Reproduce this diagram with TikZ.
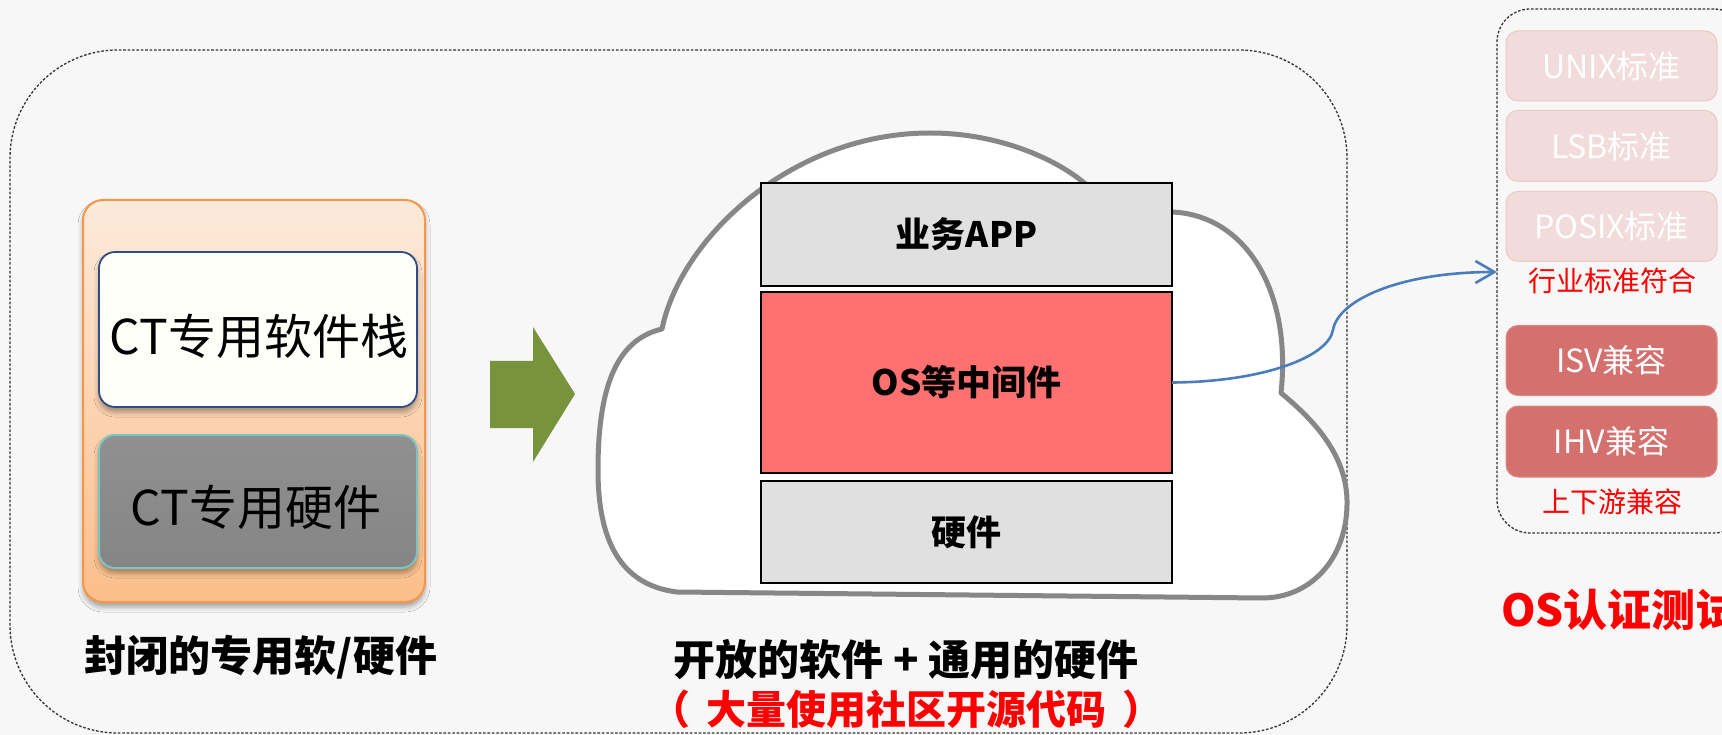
\documentclass[tikz,border=0pt]{standalone}
\usepackage{fontspec}
\setmainfont{Noto Sans CJK SC}
\newfontfamily\heavyfont{Noto Sans CJK SC Black}
\usetikzlibrary{arrows.meta,shadows.blur}

\definecolor{bg}{HTML}{F7F7F7}
\definecolor{frameline}{HTML}{333333}
\definecolor{orangeedge}{HTML}{F79646}
\definecolor{orangetop}{HTML}{FDEADB}
\definecolor{orangebot}{HTML}{FBBE8A}
\definecolor{navyedge}{HTML}{2F4C86}
\definecolor{tealedge}{HTML}{7CC3C3}
\definecolor{hwtop}{HTML}{909090}
\definecolor{hwbot}{HTML}{858585}
\definecolor{arrowgreen}{HTML}{77933C}
\definecolor{cloudline}{HTML}{878787}
\definecolor{layergray}{HTML}{E0E0E0}
\definecolor{osred}{HTML}{FF7171}
\definecolor{linkblue}{HTML}{4A7EBB}
\definecolor{stdpink}{HTML}{F2DCDB}
\definecolor{stdpinkedge}{HTML}{ECC9C8}
\definecolor{compatred}{HTML}{D4716F}
\definecolor{compatedge}{HTML}{DC8A88}
\definecolor{alertred}{HTML}{FF0000}

\newcommand\pxfont[1]{\fontsize{#1}{#1}\selectfont}

\tikzset{
  every node/.style={inner sep=0pt, outer sep=0pt},
  frame/.style={draw=frameline, line width=1.3pt, dash pattern=on 2.6pt off 1.8pt},
  softshadow/.style={blur shadow={shadow xshift=0pt, shadow yshift=-5pt,
      shadow blur radius=5pt, shadow opacity=35}},
  ctbox/.style={rounded corners=16pt, minimum width=318pt, softshadow},
  layer/.style={draw=black, line width=1.8pt, minimum width=411pt,
      font=\heavyfont\pxfont{35}, text=black},
  stdbox/.style={rounded corners=12pt, minimum width=211pt, line width=1pt,
      font=\pxfont{32}, text=white},
  caption/.style={font=\pxfont{42}\bfseries, text=black},
  redcaption/.style={font=\pxfont{28}, text=alertred},
  link/.style={draw=linkblue, line width=2.6pt,
      -{Straight Barb[length=19pt, width=22pt, line width=2.6pt]}}
}

\begin{document}
\begin{tikzpicture}[x=1pt, y=-1pt]
\useasboundingbox (0,0) rectangle (1722,735);
\fill[bg] (0,0) rectangle (1722,735);

% dashed frames
\node[frame, rounded corners=108pt, minimum width=1337pt, minimum height=683pt]
  (leftframe) at (678.5,391.5) {};
\node[frame, rounded corners=33pt, minimum width=250pt, minimum height=524pt]
  (rightframe) at (1622,271) {};

% closed, dedicated stack
\node[rounded corners=20pt, draw=orangeedge, line width=2pt,
      top color=orangetop, bottom color=orangebot,
      minimum width=342pt, minimum height=402pt, softshadow]
  (closed) at (254,401) {};
\node[ctbox, draw=navyedge, line width=1.8pt, fill=white!98!yellow,
      minimum height=155pt] (ctsw) at (258,329.5) {};
\node[font=\pxfont{48}] (ctswtext) at (259,336) {CT专用软件栈};
\node[ctbox, draw=tealedge, line width=2pt, top color=hwtop, bottom color=hwbot,
      minimum height=133pt] (cthw) at (258,501.5) {};
\node[font=\pxfont{48}] (cthwtext) at (256,507) {CT专用硬件};
\node[caption] (closedlabel) at (261,657) {封闭的专用软/硬件};

% green transition arrow
\fill[arrowgreen] (490,361) -- (533,361) -- (533,327) -- (575,394)
  -- (533,462) -- (533,428) -- (490,428) -- cycle;

% cloud
\filldraw[fill=white, draw=cloudline, line width=5pt, line join=round]
  (662,329)
  .. controls (680,240) and (790,133) .. (930,133)
  .. controls (1000,133) and (1060,160) .. (1090,188)
  -- (1165,205) -- (1172,212)
  .. controls (1245,215) and (1292,290) .. (1281,393)
  .. controls (1320,425) and (1348,460) .. (1347,505)
  .. controls (1346,560) and (1310,598) .. (1262,598)
  -- (677,592)
  .. controls (620,585) and (598,540) .. (598,470)
  .. controls (598,390) and (615,340) .. (662,329) -- cycle;

% open software stack
\node[layer, fill=layergray, minimum height=103pt] (app) at (966.5,234.5) {业务APP};
\node[layer, fill=osred, minimum height=181pt] (os) at (966.5,382.5) {OS等中间件};
\node[layer, fill=layergray, minimum height=102pt] (hw) at (966.5,532) {硬件};

\node[caption, font=\pxfont{42}\bfseries] (openlabel) at (906,660) {开放的软件 + 通用的硬件};
\node[caption, font=\pxfont{40}\bfseries, text=alertred] (sourcelabel) at (906,709)
  {（\hspace{16pt}大量使用社区开源代码\hspace{16pt}）};

% link to certification tests
\coordinate (tip) at (1497,272);
\draw[link] (os.east) .. controls (1260,382) and (1328,358) .. (1333,330)
  .. controls (1338,300) and (1400,272) .. (tip);

% certification items
\node[stdbox, fill=stdpink, draw=stdpinkedge, minimum height=70pt] (unix) at (1611.5,66) {UNIX标准};
\node[stdbox, fill=stdpink, draw=stdpinkedge, minimum height=71pt] (lsb) at (1611.5,146) {LSB标准};
\node[stdbox, fill=stdpink, draw=stdpinkedge, minimum height=70pt] (posix) at (1611.5,226.5) {POSIX标准};
\node[redcaption] (stdlabel) at (1612,281) {行业标准符合};
\node[stdbox, fill=compatred, draw=compatedge, minimum height=70pt] (isv) at (1611.5,360.5) {ISV兼容};
\node[stdbox, fill=compatred, draw=compatedge, minimum height=71pt] (ihv) at (1611.5,441.5) {IHV兼容};
\node[redcaption] (compatlabel) at (1612,502) {上下游兼容};

\node[anchor=west, font=\pxfont{44}\bfseries, text=alertred] (certlabel) at (1501,610) {OS认证测试};
\end{tikzpicture}
\end{document}
